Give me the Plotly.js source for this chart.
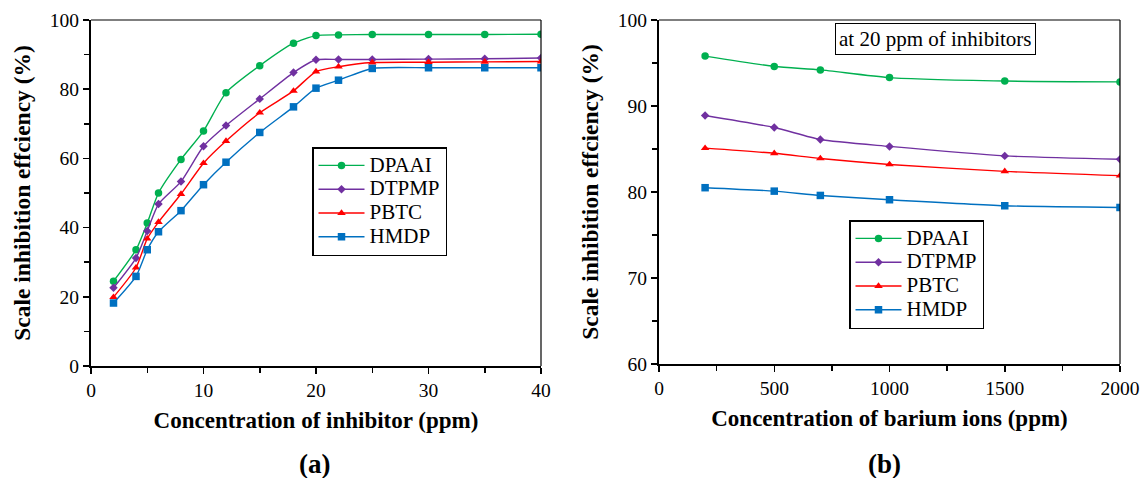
<!DOCTYPE html>
<html>
<head>
<meta charset="utf-8">
<script src="https://cdn.plot.ly/plotly-3.0.1.min.js"></script>
<style>html,body{margin:0;padding:0;background:#fff;}#chart{width:1146px;height:478px;}</style>
</head>
<body>
<div id="chart"></div>
<script>
// ---- Data: panel (a) ----
const concA = [2, 4, 5, 6, 8, 10, 12, 15, 18, 20, 22, 25, 30, 35, 40];
const dpaaiA = [24.5, 33.6, 41.3, 50.0, 59.7, 67.9, 79.0, 86.8, 93.3, 95.5, 95.7, 95.8, 95.8, 95.8, 95.9];
const dtpmpA = [22.6, 31.2, 39.0, 46.8, 53.3, 63.5, 69.5, 77.2, 84.8, 88.5, 88.6, 88.6, 88.7, 88.8, 89.0];
const pbtcA  = [19.9, 28.4, 36.8, 41.6, 49.7, 58.6, 65.0, 73.2, 79.5, 85.1, 86.5, 87.7, 87.8, 87.9, 88.0];
const hmdpA  = [18.2, 25.9, 33.6, 38.8, 44.9, 52.4, 58.9, 67.5, 74.9, 80.3, 82.6, 86.0, 86.2, 86.2, 86.2];

// ---- Data: panel (b) ----
const bariumB = [200, 500, 700, 1000, 1500, 2000];
const dpaaiB = [95.8, 94.6, 94.2, 93.3, 92.9, 92.8];
const dtpmpB = [88.9, 87.5, 86.1, 85.3, 84.2, 83.8];
const pbtcB  = [85.1, 84.5, 83.9, 83.2, 82.4, 81.9];
const hmdpB  = [80.5, 80.1, 79.6, 79.1, 78.4, 78.2];

const names = ['DPAAI', 'DTPMP', 'PBTC', 'HMDP'];
const colors = ['#00b050', '#7030a0', '#ff0000', '#0070c0'];
const symbols = ['circle', 'diamond', 'triangle-up', 'square'];
const msizes = [7.5, 6.5, 7.5, 7.5];

const seriesA = [dpaaiA, dtpmpA, pbtcA, hmdpA];
const seriesB = [dpaaiB, dtpmpB, pbtcB, hmdpB];

// legend label: larger glyphs than the legend's nominal font, for tighter rows
const legName = n => '<span style="font-size:21px">' + n + '</span>';

const traces = [];
seriesA.forEach((ys, i) => traces.push({
  x: concA, y: ys, name: legName(names[i]), type: 'scatter', mode: 'lines+markers',
  xaxis: 'x', yaxis: 'y', legend: 'legend',
  line: {color: colors[i], width: 1.4, shape: 'spline', smoothing: 0.6},
  marker: {color: colors[i], symbol: symbols[i], size: msizes[i]}
}));
seriesB.forEach((ys, i) => traces.push({
  x: bariumB, y: ys, name: legName(names[i]), type: 'scatter', mode: 'lines+markers',
  xaxis: 'x2', yaxis: 'y2', legend: 'legend2',
  line: {color: colors[i], width: 1.4, shape: 'spline', smoothing: 0.6},
  marker: {color: colors[i], symbol: symbols[i], size: msizes[i]}
}));

const W = 1146, H = 478;
const serif = '"Liberation Serif", "Times New Roman", Times, serif';
const tickFont = {family: serif, size: 19.5, color: '#000'};
const xTitleFont = {family: serif, size: 23, color: '#000', weight: 'bold'};
const yTitleFont = {family: serif, size: 23.5, color: '#000', weight: 'bold'};

function axisBase() {
  return {
    showline: true, linecolor: '#000', linewidth: 2, mirror: false,
    showgrid: false, zeroline: false,
    ticks: 'outside', ticklen: 6, tickwidth: 1.5, tickcolor: '#000',
    tickfont: tickFont, fixedrange: true
  };
}

const legendBase = {
  xanchor: 'left', yanchor: 'top',
  bordercolor: '#000', borderwidth: 1.5, bgcolor: '#fff',
  font: {family: serif, size: 16, color: '#000'}, itemwidth: 46,
  tracegroupgap: 0
};

const layout = {
  width: W, height: H,
  margin: {l: 0, r: 0, t: 0, b: 0},
  paper_bgcolor: '#fff', plot_bgcolor: '#fff',
  font: {family: serif, color: '#000'},
  showlegend: true,
  xaxis: Object.assign(axisBase(), {
    domain: [91 / W, 541 / W], range: [0, 40], dtick: 10, tick0: 0,
    minor: {dtick: 5, ticks: 'outside', ticklen: 5, tickwidth: 1.5, tickcolor: '#000'},
    title: {text: '<b>Concentration of inhibitor (ppm)</b>', font: xTitleFont, standoff: 11},
    anchor: 'y'
  }),
  yaxis: Object.assign(axisBase(), {
    domain: [1 - 366 / H, 1 - 20 / H], range: [0, 100], dtick: 20, tick0: 0,
    minor: {dtick: 10, ticks: 'outside', ticklen: 5, tickwidth: 1.5, tickcolor: '#000'},
    title: {text: '<b>Scale inhibition effciency (%)</b>', font: yTitleFont, standoff: 13},
    anchor: 'x'
  }),
  xaxis2: Object.assign(axisBase(), {
    domain: [659 / W, 1120 / W], range: [0, 2000], dtick: 500, tick0: 0,
    minor: {dtick: 250, ticks: 'outside', ticklen: 5, tickwidth: 1.5, tickcolor: '#000'},
    title: {text: '<b>Concentration of barium ions (ppm)</b>', font: xTitleFont, standoff: 11},
    anchor: 'y2'
  }),
  yaxis2: Object.assign(axisBase(), {
    domain: [1 - 364 / H, 1 - 20 / H], range: [60, 100], dtick: 10, tick0: 60,
    minor: {dtick: 5, ticks: 'outside', ticklen: 5, tickwidth: 1.5, tickcolor: '#000'},
    title: {text: '<b>Scale inhibition effciency (%)</b>', font: yTitleFont, standoff: 13},
    anchor: 'x2'
  }),
  legend: Object.assign({}, legendBase, {x: 312 / W, y: 1 - 147 / H}),
  legend2: Object.assign({}, legendBase, {x: 849 / W, y: 1 - 220 / H}),
  shapes: [
    {type: 'line', xref: 'x domain', yref: 'y domain', x0: 0, x1: 1, y0: 1, y1: 1, line: {color: '#000', width: 1.2}},
    {type: 'line', xref: 'x domain', yref: 'y domain', x0: 1, x1: 1, y0: 0, y1: 1, line: {color: '#000', width: 1.2}},
    {type: 'line', xref: 'x2 domain', yref: 'y2 domain', x0: 0, x1: 1, y0: 1, y1: 1, line: {color: '#000', width: 1.2}},
    {type: 'line', xref: 'x2 domain', yref: 'y2 domain', x0: 1, x1: 1, y0: 0, y1: 1, line: {color: '#000', width: 1.2}}
  ],
  annotations: [
    {text: 'at 20 ppm of inhibitors', xref: 'paper', yref: 'paper', x: 935 / W, y: 1 - 38.5 / H,
     xanchor: 'center', yanchor: 'middle', showarrow: false,
     font: {family: serif, size: 21, color: '#000'},
     bordercolor: '#000', borderwidth: 1, borderpad: 3, bgcolor: '#fff'},
    {text: '<b>(a)</b>', xref: 'paper', yref: 'paper', x: 314 / W, y: 1 - 464 / H,
     xanchor: 'center', yanchor: 'middle', showarrow: false,
     font: {family: serif, size: 27, color: '#000'}},
    {text: '<b>(b)</b>', xref: 'paper', yref: 'paper', x: 884 / W, y: 1 - 464 / H,
     xanchor: 'center', yanchor: 'middle', showarrow: false,
     font: {family: serif, size: 27, color: '#000'}}
  ]
};

Plotly.newPlot('chart', traces, layout, {displayModeBar: false, staticPlot: true});
</script>
</body>
</html>
